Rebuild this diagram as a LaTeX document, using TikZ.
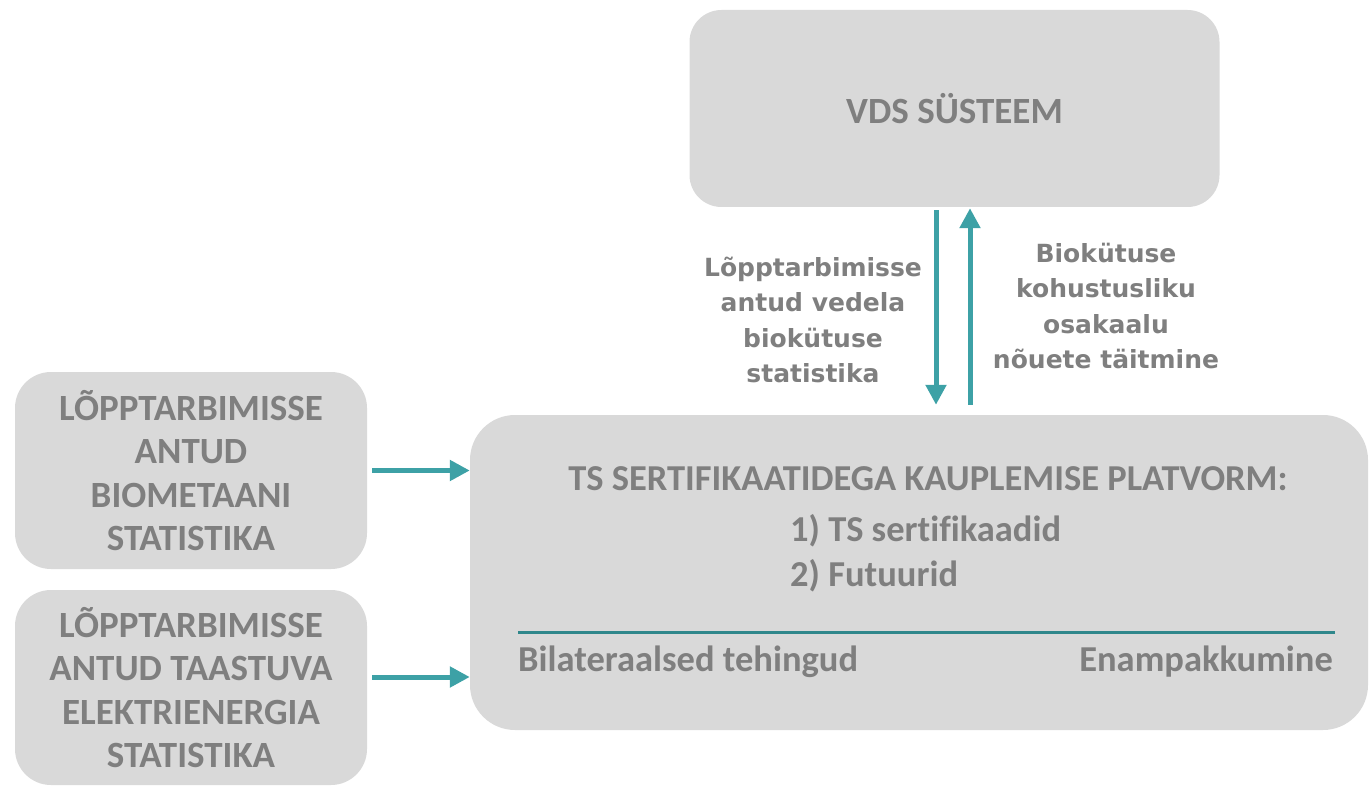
\documentclass[tikz,border=0pt]{standalone}
\usepackage{fontspec}
\setmainfont{Carlito}[Ligatures=NoCommon]
\newfontfamily\lblfont{DejaVu Sans}
\usetikzlibrary{arrows.meta,calc}
\definecolor{boxgray}{HTML}{D9D9D9}
\definecolor{txtgray}{HTML}{7F7F7F}
\definecolor{teal1}{HTML}{3DA1A6}
\definecolor{teal2}{HTML}{2F878B}
\tikzset{
  box/.style={fill=boxgray, draw=none, text=txtgray, font=\bfseries\fontsize{37}{43.5}\selectfont, align=center, inner sep=0pt},
  conn/.style={draw=teal1, line width=5pt, -{Triangle[length=20pt,width=20pt]}},
  lbl/.style={text=txtgray, font=\lblfont\bfseries\fontsize{25}{35.5}\selectfont, align=center},
  mtxt/.style={text=txtgray, font=\bfseries\fontsize{36.5}{40}\selectfont, inner sep=0pt}
}
\begin{document}
\begin{tikzpicture}[x=1pt,y=-1pt]
\useasboundingbox (0,0) rectangle (1371,786);
\node[box, rounded corners=32pt, minimum width=530pt, minimum height=197pt] (vds) at (954.5,108.5) {VDS SÜSTEEM};
\node[box, rounded corners=36pt, minimum width=352pt, minimum height=197pt] (b1) at (191,470.5) {LÕPPTARBIMISSE\\ANTUD\\BIOMETAANI\\STATISTIKA};
\node[box, rounded corners=36pt, minimum width=352pt, minimum height=195pt] (b2) at (191,687.5) {LÕPPTARBIMISSE\\ANTUD TAASTUVA\\ELEKTRIENERGIA\\STATISTIKA};
\node[box, rounded corners=45pt, minimum width=898pt, minimum height=315pt] (main) at (919,572.5) {};
\node[mtxt, anchor=base] (t1) at (928,490) {TS SERTIFIKAATIDEGA KAUPLEMISE PLATVORM:};
\node[mtxt, anchor=base west] (t2) at (790,541) {1) TS sertifikaadid};
\node[mtxt, anchor=base west] (t3) at (790,586) {2) Futuurid};
\coordinate (la) at (518,632);
\coordinate (lb) at (1335,632);
\draw[teal2, line width=3pt] (la) -- (lb);
\node[mtxt, anchor=base west] (bil) at (518,671) {Bilateraalsed tehingud};
\node[mtxt, anchor=base east] (ena) at (1333,671) {Enampakkumine};
\coordinate (xd) at (936,0);
\coordinate (xu) at (970,0);
\draw[conn, shorten <=3pt, shorten >=10pt] (vds.south -| xd) -- (main.north -| xd);
\draw[conn, shorten <=10pt, shorten >=1pt] (main.north -| xu) -- (vds.south -| xu);
\coordinate (y2) at (0,677);
\draw[conn, shorten <=5pt] (b1.east) -- (b1.east -| main.west);
\draw[conn, shorten <=5pt] (y2 -| b2.east) -- (y2 -| main.west);
\node[lbl] (l1) at (813,320) {Lõpptarbimisse\\antud vedela\\biokütuse\\statistika};
\node[lbl] (l2) at (1106,306) {Biokütuse\\kohustusliku\\osakaalu\\nõuete täitmine};
\end{tikzpicture}
\end{document}
